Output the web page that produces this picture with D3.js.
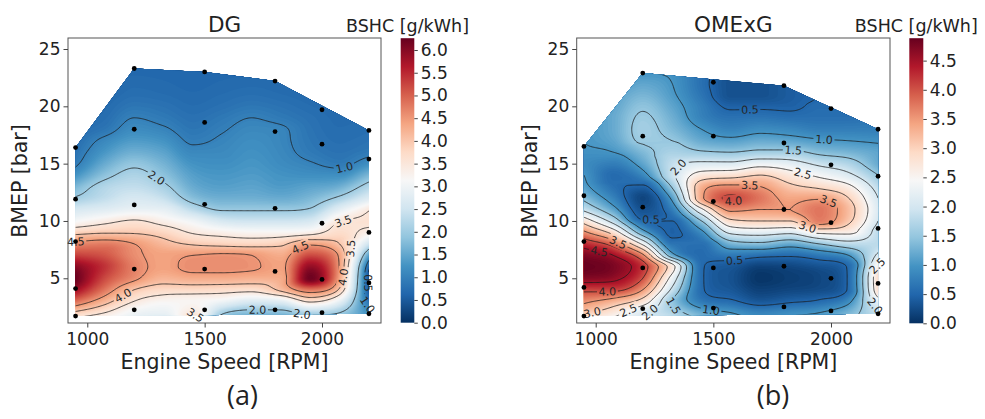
<!DOCTYPE html>
<html>
<head>
<meta charset="utf-8">
<script src="https://cdn.jsdelivr.net/npm/d3@7"></script>
<style>
  body { margin: 0; background: #fff; }
  svg text { font-family: "DejaVu Sans", sans-serif; fill: #222; }
</style>
</head>
<body>
<script>
var rpmCols = [950, 1075, 1200, 1325, 1450, 1575, 1700, 1825, 1950, 2075, 2200];
var bmepRows = [1, 2, 3, 4, 5, 6, 7, 8, 9, 10, 11, 12, 13, 14, 15, 16, 17, 18, 19, 20, 21, 22, 23, 24];

// BSHC, DG  (one list per rpm column, bottom to top)
var dgGrid = [
  [3.0, 3.9, 4.9, 5.8, 6.25, 6.0, 5.3, 4.65, 3.85, 3.1, 2.6, 2.05, 1.7, 1.25, 0.92, 0.8, 0.72, 0.7, 0.68, 0.66, 0.65, 0.64, 0.63, 0.62],
  [2.8, 3.5, 4.2, 4.8, 5.2, 5.4, 5.1, 4.75, 3.95, 3.35, 2.75, 2.35, 2.2, 1.85, 1.55, 1.3, 1.1, 0.85, 0.75, 0.7, 0.66, 0.64, 0.63, 0.62],
  [2.8, 3.0, 3.5, 4.0, 4.6, 4.7, 4.6, 4.5, 3.95, 3.55, 2.9, 2.6, 2.35, 2.15, 1.9, 1.6, 1.35, 1.15, 1.0, 0.85, 0.75, 0.7, 0.66, 0.64],
  [2.6, 2.9, 3.2, 3.75, 4.2, 4.4, 4.4, 4.15, 3.8, 3.3, 2.85, 2.4, 2.1, 1.85, 1.65, 1.45, 1.25, 1.05, 0.9, 0.8, 0.72, 0.68, 0.65, 0.63],
  [3.9, 3.45, 3.2, 3.75, 4.3, 4.6, 4.5, 3.95, 3.45, 3.0, 2.3, 1.8, 1.55, 1.4, 1.25, 1.1, 0.95, 0.85, 0.78, 0.72, 0.68, 0.65, 0.63, 0.62],
  [1.4, 2.1, 3.0, 3.7, 4.3, 4.6, 4.55, 3.85, 3.3, 2.6, 1.95, 1.6, 1.4, 1.3, 1.2, 1.12, 1.05, 0.97, 0.88, 0.78, 0.72, 0.68, 0.65, 0.63],
  [1.3, 1.8, 2.7, 3.65, 4.25, 4.55, 4.5, 3.8, 3.2, 2.5, 1.95, 1.6, 1.45, 1.35, 1.28, 1.22, 1.17, 1.1, 1.0, 0.86, 0.76, 0.7, 0.66, 0.64],
  [1.3, 1.8, 2.8, 4.1, 4.3, 4.4, 4.3, 3.9, 3.2, 2.5, 1.95, 1.55, 1.35, 1.25, 1.15, 1.1, 1.07, 1.05, 0.9, 0.8, 0.72, 0.68, 0.65, 0.63],
  [1.4, 2.2, 3.6, 4.8, 6.2, 5.9, 5.2, 4.4, 3.3, 2.6, 2.05, 1.7, 1.45, 1.2, 1.03, 0.9, 0.85, 0.82, 0.78, 0.72, 0.68, 0.65, 0.63, 0.62],
  [1.6, 2.0, 2.9, 3.9, 4.35, 4.45, 4.4, 4.0, 3.7, 3.45, 2.8, 2.1, 1.6, 1.2, 0.9, 0.8, 0.75, 0.72, 0.7, 0.68, 0.66, 0.64, 0.63, 0.62],
  [1.5, 1.2, 0.8, 0.45, 0.4, 0.6, 1.4, 2.5, 3.3, 3.6, 3.45, 2.7, 2.2, 1.7, 1.2, 0.9, 0.8, 0.75, 0.72, 0.7, 0.68, 0.66, 0.64, 0.62]
];

// BSHC, OMExG
var omexGrid = [
  [2.2, 3.1, 3.6, 4.1, 4.7, 4.88, 4.75, 4.3, 3.6, 2.8, 1.9, 1.4, 1.1, 1.0, 0.9, 0.95, 1.0, 1.0, 1.0, 1.0, 1.0, 1.0, 1.0, 1.0],
  [2.2, 2.7, 3.3, 4.1, 4.6, 4.75, 4.5, 3.8, 2.8, 1.8, 1.15, 0.8, 0.6, 0.55, 0.75, 1.0, 1.15, 1.2, 1.2, 1.15, 1.1, 1.0, 1.0, 1.0],
  [2.0, 2.1, 2.8, 3.5, 4.0, 4.2, 3.6, 2.4, 1.2, 0.55, 0.3, 0.2, 0.45, 0.85, 1.15, 1.35, 1.55, 1.6, 1.55, 1.45, 1.3, 1.15, 1.0, 1.0],
  [2.2, 1.7, 1.5, 1.9, 2.3, 2.7, 1.2, 0.65, 0.45, 0.5, 0.75, 1.1, 1.55, 1.9, 1.85, 1.65, 1.5, 1.35, 1.25, 1.15, 1.05, 1.0, 0.95, 0.9],
  [1.6, 1.2, 0.7, 0.55, 0.55, 0.55, 0.55, 0.6, 0.9, 1.5, 2.4, 3.4, 3.3, 2.7, 2.1, 1.55, 1.2, 1.0, 0.8, 0.75, 0.65, 0.6, 0.6, 0.6],
  [1.3, 1.0, 0.55, 0.35, 0.3, 0.35, 0.7, 1.3, 2.1, 2.9, 3.6, 4.05, 3.6, 2.8, 2.1, 1.5, 1.1, 0.8, 0.62, 0.45, 0.3, 0.3, 0.35, 0.4],
  [1.1, 0.8, 0.35, 0.15, 0.05, 0.15, 0.6, 1.4, 2.2, 3.0, 3.5, 3.75, 3.5, 3.0, 2.3, 1.6, 1.2, 0.9, 0.65, 0.45, 0.3, 0.3, 0.35, 0.4],
  [1.2, 0.9, 0.45, 0.2, 0.12, 0.2, 0.55, 1.2, 2.1, 3.0, 3.5, 3.4, 3.1, 2.7, 2.2, 1.6, 1.15, 0.85, 0.6, 0.45, 0.4, 0.4, 0.4, 0.4],
  [1.3, 1.0, 0.55, 0.25, 0.2, 0.3, 0.7, 1.5, 2.6, 3.7, 3.75, 3.45, 2.9, 2.4, 1.9, 1.4, 1.05, 0.75, 0.6, 0.55, 0.5, 0.5, 0.5, 0.5],
  [1.5, 1.3, 0.9, 0.55, 0.55, 0.55, 1.0, 1.8, 2.6, 3.1, 3.2, 3.0, 2.6, 2.1, 1.7, 1.3, 1.0, 0.75, 0.6, 0.55, 0.55, 0.55, 0.55, 0.55],
  [1.8, 1.9, 2.3, 2.85, 2.9, 2.6, 2.1, 1.8, 1.8, 2.0, 2.1, 2.0, 1.8, 1.5, 1.2, 1.15, 0.95, 0.75, 0.7, 0.65, 0.6, 0.6, 0.6, 0.6]
];

// operating points [rpm, bmep]
var dgPoints = [[950,1.7],[950,4.1],[950,8.2],[950,11.9],[950,16.4],
  [1200,2.25],[1200,5.8],[1200,11.4],[1200,18.0],[1200,23.3],
  [1500,2.25],[1500,5.8],[1500,11.45],[1500,18.6],[1500,23.0],
  [1800,2.25],[1800,5.6],[1800,11.1],[1800,17.8],[1800,22.2],
  [2000,2.0],[2000,4.9],[2000,9.8],[2000,16.7],[2000,19.7],
  [2200,1.9],[2200,4.6],[2200,9.0],[2200,15.4],[2200,17.9]];
var omexPoints = [[950,1.7],[950,4.2],[950,8.2],[950,12.2],[950,16.5],
  [1200,2.35],[1200,5.9],[1200,11.2],[1200,17.4],[1200,22.9],
  [1500,2.4],[1500,5.9],[1500,11.7],[1500,17.4],[1500,22.1],
  [1800,2.5],[1800,6.05],[1800,11.0],[1800,16.8],[1800,21.8],
  [2000,2.15],[2000,5.0],[2000,9.85],[2000,14.9],[2000,19.8],
  [2200,1.9],[2200,4.55],[2200,9.35],[2200,13.9],[2200,18.0]];

var dgLevels = [0.5, 1.0, 2.0, 3.5, 4.0, 4.5];
var omexLevels = [0.5, 1.0, 1.5, 2.0, 2.5, 3.0, 3.5, 4.0, 4.5];

// contour labels [level, rpm, bmep]
var dgLabels = [[1.0,2092,14.7],[2.0,1293,13.6],[3.5,2092,9.8],[4.5,952,8.3],[4.0,1144,3.8],
  [4.5,1918,7.3],[3.5,2145,7.6],[4.0,2088,5.15],[0.5,2195,4.6],[1.0,2190,2.7],
  [3.5,1506,2.0],[2.0,1726,2.1],[2.0,1932,2.0]];
var omexLabels = [[0.5,1657,20.1],[1.0,1970,17.1],[1.5,1840,16.2],[2.0,1375,14.3],[2.5,1883,14.3],
  [3.5,1657,13.6],[4.0,1585,11.7],[3.5,1997,12.0],[3.0,1897,9.2],[0.5,1233,10.8],
  [3.5,1099,8.25],[4.5,1014,7.2],[4.0,1050,4.27],[3.0,986,2.1],[2.5,1127,2.7],
  [2.0,1226,2.15],[1.5,1311,2.2],[1.0,1487,1.95],[0.5,1589,6.6],[2.5,2184,6.3],[2.0,2198,2.8]];

var dgTicks = [0.0, 0.5, 1.0, 1.5, 2.0, 2.5, 3.0, 3.5, 4.0, 4.5, 5.0, 5.5, 6.0];
var omexTicks = [0.0, 0.5, 1.0, 1.5, 2.0, 2.5, 3.0, 3.5, 4.0, 4.5];
var dgMax = 6.26, omexMax = 4.884;

// RdBu_r
var rdbu = ["#053061","#2166ac","#4393c3","#92c5de","#d1e5f0","#f7f7f7","#fddbc7","#f4a582","#d6604d","#b2182b","#67001f"];

var W = 985, H = 419;
var svg = d3.select("body").append("svg").attr("width", W).attr("height", H);
var defs = svg.append("defs");

// fine sampling grid used for drawing
var nx = 261, ny = 241, fx0 = 925, fdx = 5, fy0 = 0.5, fdy = 0.1;

function slopes(ys) {
  var n = ys.length, d = [], m = [];
  for (var i = 0; i < n - 1; i++) d.push(ys[i + 1] - ys[i]);
  m[0] = d[0]; m[n - 1] = d[n - 2];
  for (var i = 1; i < n - 1; i++) m[i] = d[i - 1] * d[i] <= 0 ? 0 : (d[i - 1] + d[i]) / 2;
  for (var i = 0; i < n - 1; i++) {
    if (d[i] === 0) { m[i] = 0; m[i + 1] = 0; continue; }
    var a = m[i] / d[i], b = m[i + 1] / d[i], s = a * a + b * b;
    if (s > 9) { var t = 3 / Math.sqrt(s); m[i] = t * a * d[i]; m[i + 1] = t * b * d[i]; }
  }
  return m;
}
function hermite(ys, m, u) {
  var n = ys.length;
  if (u <= 0) return ys[0];
  if (u >= n - 1) return ys[n - 1];
  var i = Math.floor(u), t = u - i, t2 = t * t, t3 = t2 * t;
  return (2*t3 - 3*t2 + 1) * ys[i] + (t3 - 2*t2 + t) * m[i] + (-2*t3 + 3*t2) * ys[i + 1] + (t3 - t2) * m[i + 1];
}

function fineField(grid) {
  var dr = rpmCols[1] - rpmCols[0], db = bmepRows[1] - bmepRows[0];
  var cols = grid.map(function(col) {
    var m = slopes(col), out = [];
    for (var j = 0; j < ny; j++) out.push(hermite(col, m, (fy0 + j * fdy - bmepRows[0]) / db));
    return out;
  });
  var values = new Array(nx * ny);
  for (var j = 0; j < ny; j++) {
    var row = cols.map(function(c) { return c[j]; });
    var m = slopes(row);
    for (var i = 0; i < nx; i++) values[j * nx + i] = hermite(row, m, (fx0 + i * fdx - rpmCols[0]) / dr);
  }
  return values;
}

function drawPanel(p) {
  var x = d3.scaleLinear().domain(p.xDomain).range([p.left, p.right]);
  var y = d3.scaleLinear().domain([1.1, 25.96]).range([323, 38]);
  var color = d3.scaleLinear().domain(d3.range(11).map(function(k) { return k * p.vmax / 10; })).range(rdbu).clamp(true);

  var values = fineField(p.grid);
  var toScreen = function(c) { return [x(fx0 + (c[0] - 0.5) * fdx), y(fy0 + (c[1] - 0.5) * fdy)]; };
  var path = d3.geoPath(d3.geoTransform({ point: function(a, b) { var s = toScreen([a, b]); this.stream.point(s[0], s[1]); } }));

  var hull = d3.polygonHull(p.points.map(function(d) { return [x(d[0]), y(d[1])]; }));
  defs.append("clipPath").attr("id", p.id + "-clip")
    .append("path").attr("d", "M" + hull.join("L") + "Z");

  // filled field
  var nFill = 140, step = p.vmax / nFill;
  var fillThr = d3.range(nFill).map(function(k) { return k * step; });
  var bands = d3.contours().size([nx, ny]).thresholds(fillThr)(values);
  var gf = svg.append("g").attr("clip-path", "url(#" + p.id + "-clip)");
  gf.append("path").attr("d", "M" + hull.join("L") + "Z").attr("fill", color(0));
  gf.selectAll("path.band").data(bands).join("path").attr("class", "band")
    .attr("d", path).attr("fill", function(d) { return color(d.value + step / 2); });

  // contour lines
  var lines = d3.contours().size([nx, ny]).thresholds(p.levels)(values);
  var mask = defs.append("mask").attr("id", p.id + "-mask").attr("maskUnits", "userSpaceOnUse")
    .attr("x", 0).attr("y", 0).attr("width", W).attr("height", H);
  mask.append("rect").attr("width", W).attr("height", H).attr("fill", "white");

  var placed = [];
  p.labels.forEach(function(lb) {
    var target = [x(lb[1]), y(lb[2])];
    var cont = lines.find(function(c) { return Math.abs(c.value - lb[0]) < 1e-9; });
    var best = null, bd = 1e9, ang = 0;
    if (cont) cont.coordinates.forEach(function(poly) { poly.forEach(function(ring) {
      var pts = ring.map(toScreen);
      pts.forEach(function(q, k) {
        var dd = Math.hypot(q[0] - target[0], q[1] - target[1]);
        if (dd < bd && d3.polygonContains(hull, q)) {
          bd = dd; best = q;
          var a = pts[(k - 4 + pts.length) % pts.length], b = pts[(k + 4) % pts.length];
          ang = Math.atan2(b[1] - a[1], b[0] - a[0]) * 180 / Math.PI;
        }
      });
    }); });
    if (!best || bd > 14) { best = target; ang = 0; }
    if (ang > 90) ang -= 180;
    if (ang < -90) ang += 180;
    placed.push({ text: d3.format(".1f")(lb[0]), x: best[0], y: best[1], a: ang });
  });

  placed.forEach(function(d) {
    mask.append("rect").attr("x", -10.5).attr("y", -6).attr("width", 21).attr("height", 12)
      .attr("transform", "translate(" + d.x + "," + d.y + ") rotate(" + d.a + ")").attr("fill", "black");
  });

  svg.append("g").attr("clip-path", "url(#" + p.id + "-clip)")
    .append("g").attr("mask", "url(#" + p.id + "-mask)")
    .selectAll("path").data(lines).join("path")
    .attr("d", path).attr("fill", "none").attr("stroke", "#1a1a1a").attr("stroke-width", 0.9).attr("stroke-opacity", 0.85);

  svg.append("g").selectAll("text").data(placed).join("text")
    .attr("transform", function(d) { return "translate(" + d.x + "," + d.y + ") rotate(" + d.a + ")"; })
    .attr("text-anchor", "middle").attr("dy", "0.36em").style("font-size", "11px").style("fill", "#262626")
    .text(function(d) { return d.text; });

  // points
  svg.append("g").selectAll("circle").data(p.points).join("circle")
    .attr("cx", function(d) { return x(d[0]); }).attr("cy", function(d) { return y(d[1]); })
    .attr("r", 2.4).attr("fill", "#000");

  // frame and axes
  svg.append("rect").attr("x", p.left).attr("y", 38).attr("width", p.right - p.left).attr("height", 285)
    .attr("fill", "none").attr("stroke", "#555").attr("stroke-width", 1);

  var ax = svg.append("g").attr("transform", "translate(0,323)")
    .call(d3.axisBottom(x).tickValues([1000, 1500, 2000]).tickFormat(d3.format("d")).tickSize(4.5).tickPadding(5).tickSizeOuter(0));
  var ay = svg.append("g").attr("transform", "translate(" + p.left + ",0)")
    .call(d3.axisLeft(y).tickValues([5, 10, 15, 20, 25]).tickSize(4.5).tickPadding(3).tickSizeOuter(0));
  [ax, ay].forEach(function(g) {
    g.select(".domain").remove();
    g.selectAll(".tick line").attr("stroke", "#444");
    g.selectAll(".tick text").style("font-size", "17px").style("font-family", "DejaVu Sans").attr("fill", "#222");
  });

  svg.append("text").attr("x", (p.left + p.right) / 2).attr("y", 369).attr("text-anchor", "middle")
    .style("font-size", "20.5px").text("Engine Speed [RPM]");
  svg.append("text").attr("transform", "translate(" + p.ylabelX + ",181) rotate(-90)").attr("text-anchor", "middle")
    .style("font-size", "20.5px").text("BMEP [bar]");
  svg.append("text").attr("x", (p.left + p.right) / 2).attr("y", 31.5).attr("text-anchor", "middle")
    .style("font-size", "21.5px").text(p.title);

  // colorbar
  var cb = d3.scaleLinear().domain([0, p.vmax]).range([p.cbBottom, 38.2]);
  var gid = p.id + "-grad";
  var grad = defs.append("linearGradient").attr("id", gid).attr("x1", 0).attr("y1", 1).attr("x2", 0).attr("y2", 0);
  rdbu.forEach(function(c, k) { grad.append("stop").attr("offset", (k * 10) + "%").attr("stop-color", c); });
  svg.append("rect").attr("x", p.cbX).attr("y", 38.2).attr("width", p.cbW).attr("height", p.cbBottom - 38.2)
    .attr("fill", "url(#" + gid + ")");
  var ac = svg.append("g").attr("transform", "translate(" + (p.cbX + p.cbW) + ",0)")
    .call(d3.axisRight(cb).tickValues(p.ticks).tickFormat(d3.format(".1f")).tickSize(3.5).tickPadding(3).tickSizeOuter(0));
  ac.select(".domain").remove();
  ac.selectAll(".tick line").attr("stroke", "#444");
  ac.selectAll(".tick text").style("font-size", "17px").style("font-family", "DejaVu Sans").attr("fill", "#222");
  svg.append("text").attr("x", p.cbX + p.cbW / 2).attr("y", 32).attr("text-anchor", "middle")
    .style("font-size", "17.5px").text("BSHC [g/kWh]");

  svg.append("text").attr("x", p.captionX).attr("y", 405).attr("text-anchor", "middle")
    .style("font-family", "'Open Sans', sans-serif").style("font-size", "27px").text(p.caption);
}

drawPanel({ id: "a", title: "DG", caption: "(a)", grid: dgGrid, points: dgPoints, levels: dgLevels, labels: dgLabels,
  vmax: dgMax, ticks: dgTicks, left: 68, right: 381, xDomain: [917.8, 2251.4],
  cbX: 400.7, cbW: 13.6, cbBottom: 322.7, ylabelX: 27, captionX: 242.5 });
drawPanel({ id: "b", title: "OMExG", caption: "(b)", grid: omexGrid, points: omexPoints, levels: omexLevels, labels: omexLabels,
  vmax: omexMax, ticks: omexTicks, left: 576.7, right: 890, xDomain: [919.3, 2250.7],
  cbX: 909.3, cbW: 14, cbBottom: 323.3, ylabelX: 537, captionX: 773 });
</script>
</body>
</html>
